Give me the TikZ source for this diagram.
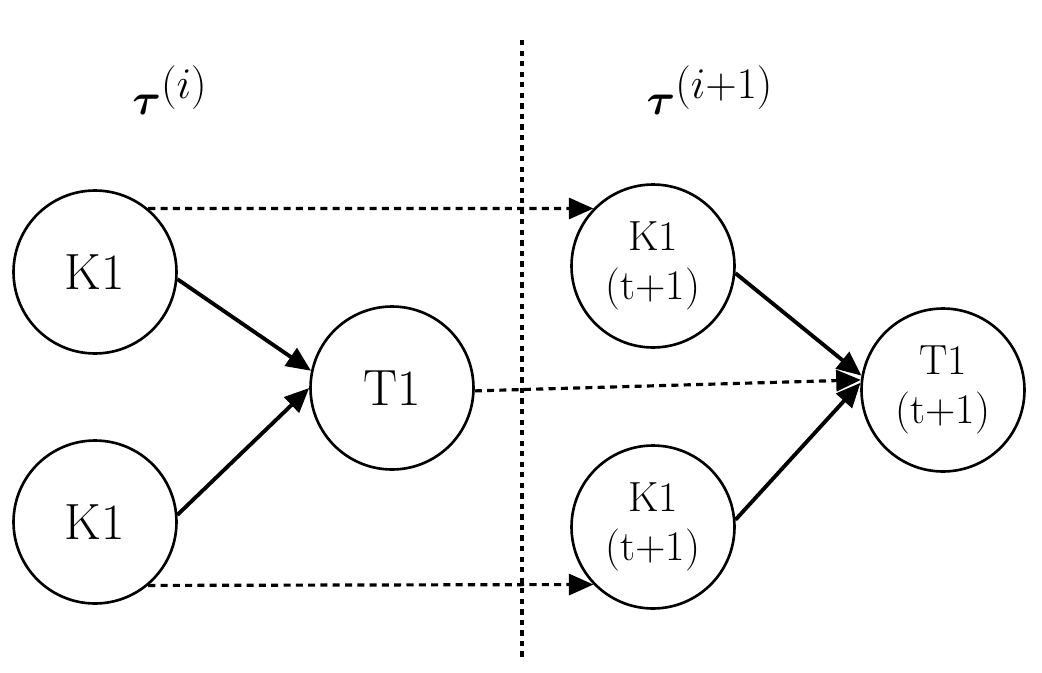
\documentclass[tikz,border=0pt]{standalone}
\usepackage{amsmath,bm}
\usetikzlibrary{arrows.meta}
\begin{document}
\begin{tikzpicture}[x=0.02cm,y=-0.02cm,
  st/.style={circle,draw,line width=1.5pt,minimum size=3.26cm,inner sep=0pt,font=\fontsize{29}{30}\selectfont,align=center},
  sm/.style={st,font=\fontsize{24}{28}\selectfont},
  ar/.style={line width=2.2pt,-{Triangle[length=14pt,width=12pt]}},
  da/.style={line width=1.8pt,dash pattern=on 4pt off 3pt,-{Triangle[length=14pt,width=12pt]}}]
\useasboundingbox (0,0) rectangle (1042,673);
\node[st] (a) at (95,272) {K1};
\node[st] (b) at (95,522) {K1};
\node[st] (t) at (392,388) {T1};
\node[sm] (c) at (653,266) {K1\\(t+1)};
\node[sm] (d) at (653,527) {K1\\(t+1)};
\node[sm] (u) at (943,390) {T1\\(t+1)};
\node (l1) at (170,90) {\fontsize{40}{44}\selectfont$\bm{\tau}^{(i)}$};
\node (l2) at (710,90) {\fontsize{40}{44}\selectfont$\bm{\tau}^{(i+1)}$};
\coordinate (v1) at (522,40); \coordinate (v2) at (522,660);
\draw[line width=1.8pt,dash pattern=on 3pt off 3pt] (v1) -- (v2);
\draw[ar] (a.-5) -- (t.168);
\draw[ar] (b.5) -- (t.180);
\draw[ar] (c.-5) -- (u.170);
\draw[ar] (d.5) -- (u.175);
\draw[da] (a.50) -- (c.136);
\draw[da] (b.-50) -- (d.-136);
\draw[da] (t.-2) -- (u.173);
\end{tikzpicture}
\end{document}
